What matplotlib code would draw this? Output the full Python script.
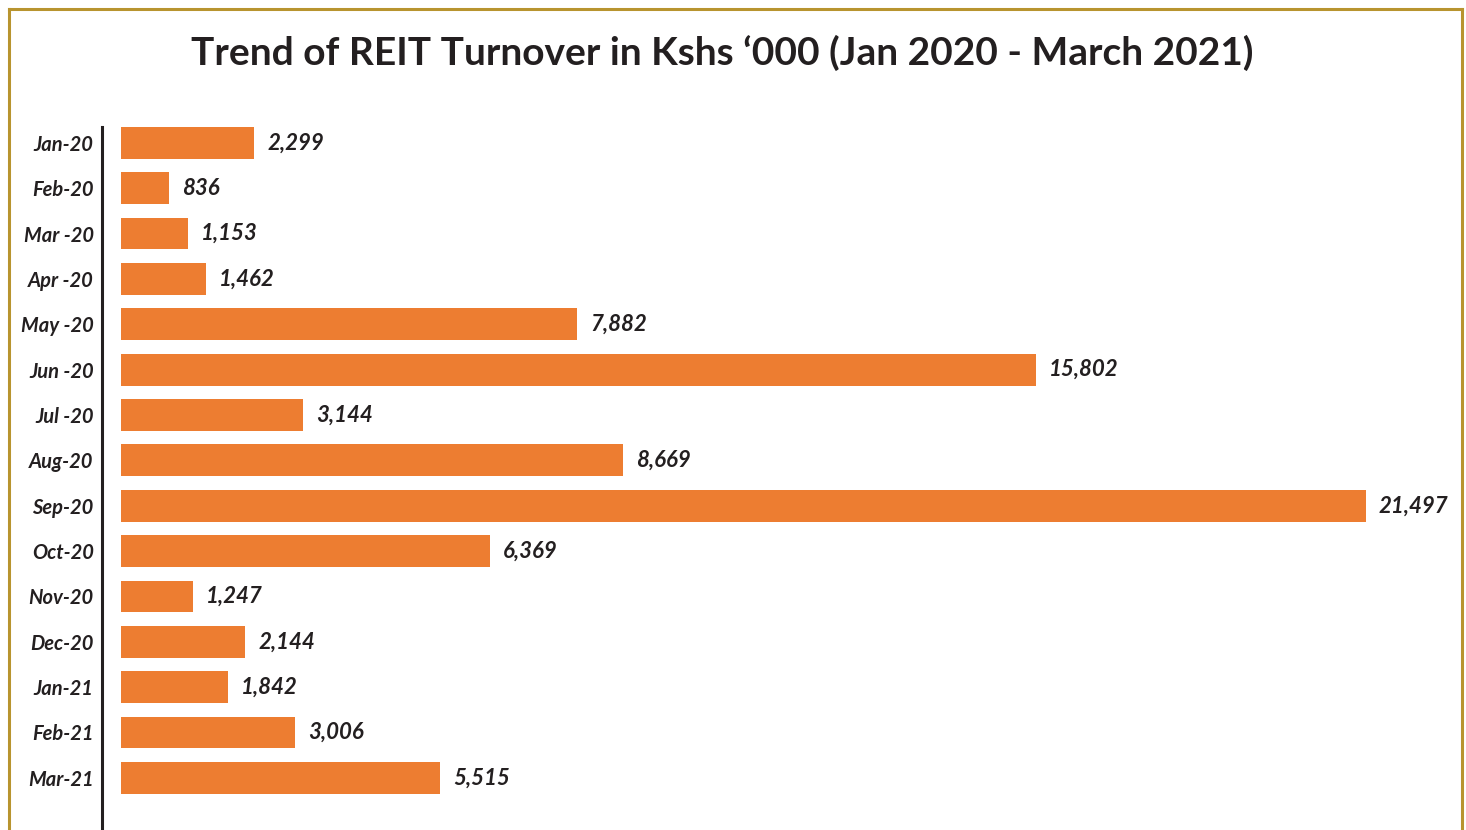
import numpy as np
import matplotlib
matplotlib.use("Agg")
import matplotlib.pyplot as plt
from matplotlib.lines import Line2D

# data
months = ["Jan-20", "Feb-20", "Mar -20", "Apr -20", "May -20", "Jun -20", "Jul -20",
          "Aug-20", "Sep-20", "Oct-20", "Nov-20", "Dec-20", "Jan-21", "Feb-21", "Mar-21"]
turnover = [2299, 836, 1153, 1462, 7882, 15802, 3144,
            8669, 21497, 6369, 1247, 2144, 1842, 3006, 5515]

title = "Trend of REIT Turnover in Kshs \u2018000 (Jan 2020 - March 2021)"

W, H = 1466, 830
BAR = "#ed7d31"
INK = "#231f20"
GOLD = "#b8942f"
FONT = ["Lato", "DejaVu Sans"]

plt.rcParams["font.family"] = FONT

fig = plt.figure(figsize=(W / 100, H / 100), dpi=100)
fig.patch.set_facecolor("white")

# axes: left spine at x=102, top at y=127, running off the bottom edge
ax = fig.add_axes([102 / W, 0, 1359 / W, 1 - 127 / H])

y = np.arange(len(months))
ax.barh(y, turnover, height=0.7, color=BAR, zorder=2)

# scale: bars start 19 px right of the spine, longest bar ends ~1366 px
px_per_unit = (1366 - 121) / max(turnover)
ax.set_xlim(-19 / px_per_unit, (1461 - 121) / px_per_unit)
ax.set_ylim(15.15, -0.35)

for yi, v in zip(y, turnover):
    ax.annotate(f"{v:,}", (v, yi), xytext=(13, 0), textcoords="offset pixels",
                ha="left", va="center", fontsize=16, fontweight="bold",
                fontstyle="italic", color=INK)

ax.set_yticks(y)
ax.set_yticklabels(months, fontsize=14.5, fontweight="bold", fontstyle="italic", color=INK)
ax.tick_params(axis="y", length=0, pad=6)
ax.set_xticks([])

for side in ["top", "right", "bottom"]:
    ax.spines[side].set_visible(False)
ax.spines["left"].set_color(INK)
ax.spines["left"].set_linewidth(2.2)

fig.text(722 / W, 1 - 53 / H, title, ha="center", va="center",
         fontsize=28, fontweight="bold", color=INK)

# gold frame (top, left, right)
lx, rx, ty = 8.5 / W, 1461.5 / W, 1 - 9 / H
for xs, ys in [([lx, lx], [0, ty]), ([rx, rx], [0, ty]), ([lx, rx], [ty, ty])]:
    fig.add_artist(Line2D(xs, ys, transform=fig.transFigure, color=GOLD, linewidth=2.2))

fig.savefig("out.png", dpi=100, facecolor="white")
